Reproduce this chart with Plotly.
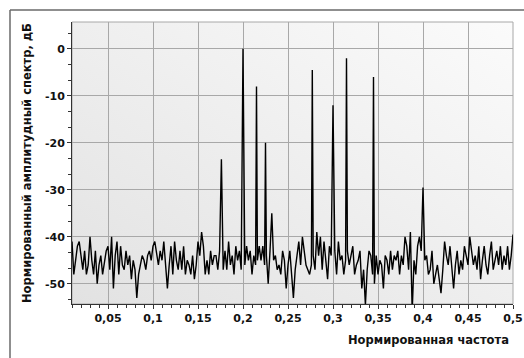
import base64
import plotly.graph_objects as go

# ---------------- data ----------------
noise_start = 0.01
noise_step = 0.002
noise_db = [
    -41, -48, -45, -42, -41,    # 0.01
    -44, -47, -43, -48, -46,    # 0.02
    -40, -45, -48, -43, -50,    # 0.03
    -46, -44, -48, -45, -43,    # 0.04
    -42, -47, -40, -51, -44,    # 0.05
    -41, -48, -42, -46, -47,    # 0.06
    -43, -46, -44, -49, -45,    # 0.07
    -47, -53, -48, -46, -44,    # 0.08
    -45, -47, -44, -43, -45,    # 0.09
    -42, -41, -44, -46, -43,    # 0.10
    -45, -41, -47, -51, -46,    # 0.11
    -42, -48, -41, -45, -47,    # 0.12
    -43, -47, -42, -48, -45,    # 0.13
    -46, -48, -44, -49, -46,    # 0.14
    -41, -44, -39, -42, -48,    # 0.15
    -45, -48, -43, -46, -44,    # 0.16
    -44, -47, -43, -45, -47,    # 0.17
    -43, -47, -41, -46, -44,    # 0.18
    -48, -42, -45, -43, -47,    # 0.19
    -46, -46, -42, -45, -43,    # 0.20
    -48, -44, -46, -45, -42,    # 0.21
    -45, -42, -46, -44, -50,    # 0.22
    -43, -45, -45, -44, -47,    # 0.23
    -46, -48, -43, -45, -51,    # 0.24
    -46, -43, -48, -53, -47,    # 0.25
    -44, -41, -46, -40, -43,    # 0.26
    -46, -47, -48, -46, -44,    # 0.27
    -47, -39, -44, -40, -47,    # 0.28
    -41, -45, -49, -42, -44,    # 0.29
    -43, -43, -48, -41, -45,    # 0.30
    -44, -48, -45, -43, -46,    # 0.31
    -44, -42, -48, -46, -45,    # 0.32
    -43, -51, -47, -54.5, -47,  # 0.33
    -43, -44, -48, -50, -44,    # 0.34
    -48, -45, -46, -51, -44,    # 0.35
    -45, -48, -43, -47, -44,    # 0.36
    -45, -43, -48, -44, -46,    # 0.37
    -40, -42, -47, -39, -56,    # 0.38
    -45, -48, -42, -40, -43,    # 0.39
    -45, -45, -44, -48, -47,    # 0.40
    -43, -50, -48, -46, -49,    # 0.41
    -52, -47, -41, -44, -46,    # 0.42
    -42, -47, -51, -46, -43,    # 0.43
    -48, -45, -47, -42, -44,    # 0.44
    -46, -40, -43, -46, -44,    # 0.45
    -47, -42, -49, -45, -42,    # 0.46
    -46, -48, -44, -41, -47,    # 0.47
    -45, -43, -46, -42, -47,    # 0.48
    -44, -46, -42, -47, -44,    # 0.49
    -39.5,                      # 0.50
]

peak_freq = [0.176, 0.200, 0.215, 0.225, 0.232, 0.277, 0.300, 0.315, 0.345, 0.400]
peak_db = [-23.5, 0.0, -8.0, -20.0, -35.0, -4.5, -12.0, -2.0, -6.0, -29.5]

x_tick_vals = [0.05, 0.1, 0.15, 0.2, 0.25, 0.3, 0.35, 0.4, 0.45, 0.5]
x_tick_text = ["0,05", "0,1", "0,15", "0,2", "0,25", "0,3", "0,35", "0,4", "0,45", "0,5"]
y_tick_vals = [0, -10, -20, -30, -40, -50]
y_tick_text = ["0", "-10", "-20", "-30", "-40", "-50"]

x_title = "Нормированная частота"
y_title = "Нормированный амплитудный спектр, дБ"

# ---------------- build combined series ----------------
noise_freq = [round(noise_start + noise_step * i, 4) for i in range(len(noise_db))]
pts = [(f, v) for f, v in zip(noise_freq, noise_db)
       if all(abs(f - p) > 0.0009 for p in peak_freq)]
pts += list(zip(peak_freq, peak_db))
pts.sort()
freq = [p[0] for p in pts]
db = [p[1] for p in pts]

FONT = "DejaVu Sans"

fig = go.Figure()
fig.add_trace(go.Scatter(x=freq, y=db, mode="lines",
                         line=dict(color="#000000", width=1.4),
                         hoverinfo="skip", showlegend=False))

svg = ('<svg xmlns="http://www.w3.org/2000/svg" width="100" height="100" preserveAspectRatio="none">'
       '<defs><linearGradient id="g" x1="0" y1="1" x2="1" y2="0">'
       '<stop offset="0" stop-color="#e2e2e2"/><stop offset="1" stop-color="#fbfbfb"/>'
       '</linearGradient></defs><rect width="100" height="100" fill="url(#g)"/></svg>')
src = "data:image/svg+xml;base64," + base64.b64encode(svg.encode()).decode()

# frame position in paper units (plot area is 441 x 282 px, origin at px (72, 304))
fx = (10 - 72) / 441
fy = (304 - 10) / 282

fig.update_layout(
    width=524, height=358,
    margin=dict(l=72, r=11, t=22, b=54, autoexpand=False),
    paper_bgcolor="white",
    plot_bgcolor="rgba(0,0,0,0)",
    separators=", ",
    font=dict(family=FONT, size=11, color="#111111"),
    images=[dict(source=src, xref="paper", yref="paper", x=0, y=1,
                 sizex=1, sizey=1, sizing="stretch", layer="below",
                 xanchor="left", yanchor="top")],
    xaxis=dict(range=[0.01, 0.5], tickvals=x_tick_vals, ticktext=x_tick_text,
               automargin=False,
               showgrid=True, gridcolor="#a8a8a8", gridwidth=1,
               showline=True, linecolor="#333333", linewidth=1,
               ticks="outside", ticklen=4, tickcolor="#333333",
               tickfont=dict(family=FONT, size=11, weight="bold", color="#111111"),
               minor=dict(dtick=0.01, tick0=0, ticks="outside", ticklen=3,
                          tickcolor="#333333", showgrid=False),
               zeroline=False),
    yaxis=dict(range=[-54.3, 5.7], tickvals=y_tick_vals, ticktext=y_tick_text,
               automargin=False,
               showgrid=True, gridcolor="#a8a8a8", gridwidth=1,
               showline=True, linecolor="#333333", linewidth=1,
               ticks="outside", ticklen=4, tickcolor="#333333",
               tickfont=dict(family=FONT, size=11, weight="bold", color="#111111"),
               minor=dict(dtick=10 / 3, tick0=0, ticks="outside", ticklen=3,
                          tickcolor="#333333", showgrid=False),
               zeroline=False),
    shapes=[
        dict(type="rect", xref="paper", yref="paper", x0=0, x1=1, y0=0, y1=1,
             line=dict(color="#a8a8a8", width=1), layer="below"),
        dict(type="line", xref="paper", yref="paper", x0=fx, x1=fx,
             y0=-0.3, y1=fy, line=dict(color="#6a6a6a", width=1.5)),
        dict(type="line", xref="paper", yref="paper", x0=fx, x1=1.2,
             y0=fy, y1=fy, line=dict(color="#6a6a6a", width=1.5)),
    ],
    annotations=[
        dict(text=y_title, xref="paper", yref="paper", x=-0.102, y=0.5,
             xanchor="center", yanchor="middle", textangle=-90, showarrow=False,
             font=dict(family=FONT, size=11.5, weight="bold", color="#111111")),
        dict(text=x_title, xref="paper", yref="paper", x=0.995, y=-0.094,
             xanchor="right", yanchor="top", showarrow=False,
             font=dict(family=FONT, size=11.5, weight="bold", color="#111111")),
    ],
)

fig.write_html("out.html", config={"displayModeBar": False},
               post_script="document.body.style.margin='0';document.body.style.padding='0';")
